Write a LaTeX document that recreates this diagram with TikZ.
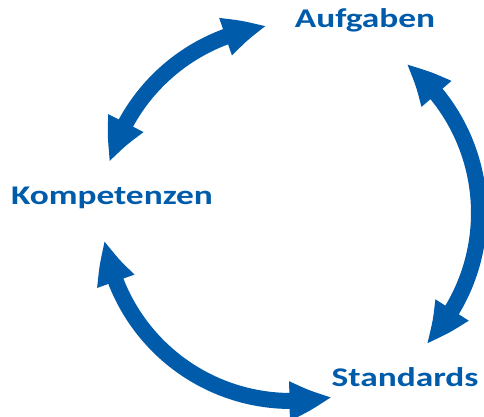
\documentclass[tikz,border=0pt]{standalone}
\usepackage{fontspec}
\setmainfont{Carlito}
\usetikzlibrary{arrows.meta, bending}
\definecolor{kblue}{RGB}{0,91,170}
\newcommand{\widetext}[1]{\scalebox{1.31}[1]{#1}}
\tikzset{
    lbl/.style={font=\bfseries\fontsize{27}{32}\selectfont, text=kblue, anchor=base, inner sep=0pt}, % Beschriftung der drei Begriffe
    ring arrow/.style={draw=kblue, line width=16pt, {Triangle[length=43pt, width=36pt, bend]}-{Triangle[length=43pt, width=36pt, bend]}} % Doppelpfeil auf dem Kreis
}
\begin{document}
\begin{tikzpicture}[x=1pt, y=1pt]

    \useasboundingbox (0,0) rectangle (484,417);
    \def\rad{188}
    \coordinate (M) at (291,204);

    \node[lbl] (aufg) at (365,389) {\widetext{Aufgaben}};
    \node[lbl] (komp) at (112,212.5) {\widetext{Kompetenzen}};
    \node[lbl] (stan) at (405,30.5) {\widetext{Standards}};

    \draw[ring arrow] ([shift={(97.4:\rad)}]M) arc[start angle=97.4, end angle=164.4, radius=\rad];
    \draw[ring arrow] ([shift={(52.3:\rad)}]M) arc[start angle=52.3, end angle=-44.1, radius=\rad];
    \draw[ring arrow] ([shift={(188.3:\rad)}]M) arc[start angle=188.3, end angle=282.6, radius=\rad];
\end{tikzpicture}
\end{document}
